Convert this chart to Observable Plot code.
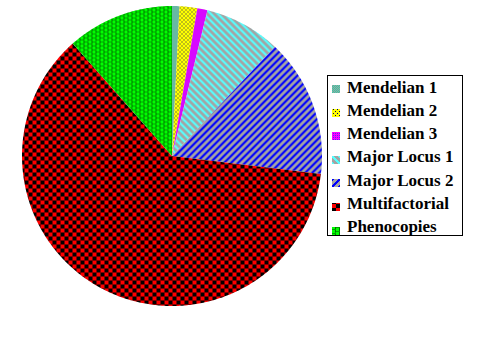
<!DOCTYPE html>
<html><head><meta charset="utf-8">
<script src="https://cdn.jsdelivr.net/npm/d3@7"></script>
<script src="https://cdn.jsdelivr.net/npm/@observablehq/plot@0.6"></script>
<style>body{margin:0;background:#fff}
.lgtext{font-family:"Liberation Serif","Times New Roman",Times,"DejaVu Serif",serif !important;font-weight:bold;font-size:17px;fill:#000;text-anchor:start}
</style>
</head><body><div id="chart"></div>
<script>
const categories = ["Mendelian 1","Mendelian 2","Mendelian 3","Major Locus 1","Major Locus 2","Multifactorial","Phenocopies"];
const shares = [0.8, 1.9, 1.1, 8.2, 14.9, 61.5, 11.5];
const patternIds = ["pM1","pM2","pM3","pL1","pL2","pMF","pPh"];

const slices = d3.pie().sort(null).value(d => d.value)(categories.map((c, i) => ({category: c, value: shares[i]})));
const pts = [];
for (const s of slices) {
  const n = Math.max(2, Math.ceil((s.endAngle - s.startAngle) / 0.01));
  pts.push({category: s.data.category, x: 0, y: 0});
  for (let k = 0; k <= n; k++) {
    const a = s.startAngle + (s.endAngle - s.startAngle) * k / n;
    pts.push({category: s.data.category, x: Math.sin(a), y: Math.cos(a)});
  }
}

const W = 491, H = 339, cx = 171.5, cy = 155.5, R = 150;
const svgEl = Plot.plot({
  width: W, height: H,
  marginLeft: cx - R, marginRight: W - (cx + R),
  marginTop: cy - R, marginBottom: H - (cy + R),
  x: {domain: [-1, 1], axis: null},
  y: {domain: [-1, 1], axis: null},
  color: {domain: categories, range: patternIds.map(id => `url(#${id})`)},
  style: {background: "#fff"},
  marks: [
    Plot.line(pts, {x: "x", y: "y", z: "category", fill: "category", stroke: "none", curve: "linear-closed"})
  ]
});
document.getElementById("chart").appendChild(svgEl);

const svg = d3.select(svgEl);
const defs = svg.insert("defs", ":first-child");
function pat(id, w, h) {
  return defs.append("pattern").attr("id", id).attr("patternUnits", "userSpaceOnUse")
    .attr("width", w).attr("height", h).attr("shape-rendering", "crispEdges");
}
function px(p, x, y, w, h, c) { p.append("rect").attr("x", x).attr("y", y).attr("width", w).attr("height", h).attr("fill", c); }

// Mendelian 1: teal / gray fine checker
let p = pat("pM1", 2, 2); px(p,0,0,2,2,"#a0a0a0"); px(p,0,0,1,1,"#30d0a8"); px(p,1,1,1,1,"#30d0a8");
// Mendelian 2: yellow with dark dots
p = pat("pM2", 4, 4); px(p,0,0,4,4,"#ffff00"); px(p,1,1,1,1,"#000060"); px(p,3,3,1,1,"#000060");
// Mendelian 3: magenta with blue dots
p = pat("pM3", 2, 2); px(p,0,0,2,2,"#ff00ff"); px(p,1,1,1,1,"#6020ff");
// Major Locus 1: gray with cyan "\" stripes
p = pat("pL1", 7, 7); px(p,0,0,7,7,"#a4a4a4");
for (let r = 0; r < 7; r++) for (let k = 0; k < 3; k++) px(p, (r + k) % 7, r, 1, 1, "#55ffff");
// Major Locus 2: gray with blue "/" stripes
p = pat("pL2", 7, 7); px(p,0,0,7,7,"#a4a4a4");
for (let r = 0; r < 7; r++) for (let k = 0; k < 3; k++) px(p, (6 - r + k + 7) % 7, r, 1, 1, "#0000ff");
// Multifactorial: red / black checker
p = pat("pMF", 8, 8); px(p,0,0,8,8,"#000000"); px(p,0,0,4,4,"#ff0000"); px(p,4,4,4,4,"#ff0000");
// Phenocopies: green blocks
p = pat("pPh", 8, 8); px(p,0,0,8,8,"#00a000");
px(p,0,0,3,3,"#00ff00"); px(p,4,2,3,3,"#00ff00"); px(p,0,4,3,3,"#00ff00"); px(p,4,6,3,2,"#00ff00"); px(p,4,0,3,1,"#00ff00");
px(p,3,0,1,3,"#007000"); px(p,7,2,1,3,"#007000"); px(p,3,4,1,3,"#007000"); px(p,7,6,1,2,"#007000");

// Legend
const lg = svg.append("g");
lg.append("rect").attr("x", 327.5).attr("y", 75.5).attr("width", 135).attr("height", 160)
  .attr("fill", "#fff").attr("stroke", "#000").attr("stroke-width", 1);
categories.forEach((c, i) => {
  const y0 = 85 + i * 23.6;
  lg.append("rect").attr("x", 332).attr("y", y0).attr("width", 8).attr("height", 8)
    .attr("fill", `url(#${patternIds[i]})`).attr("shape-rendering", "crispEdges");
  lg.append("text").attr("class", "lgtext").attr("x", 347).attr("y", 92.7 + i * 23.2).text(c);
});
</script>
</body></html>
